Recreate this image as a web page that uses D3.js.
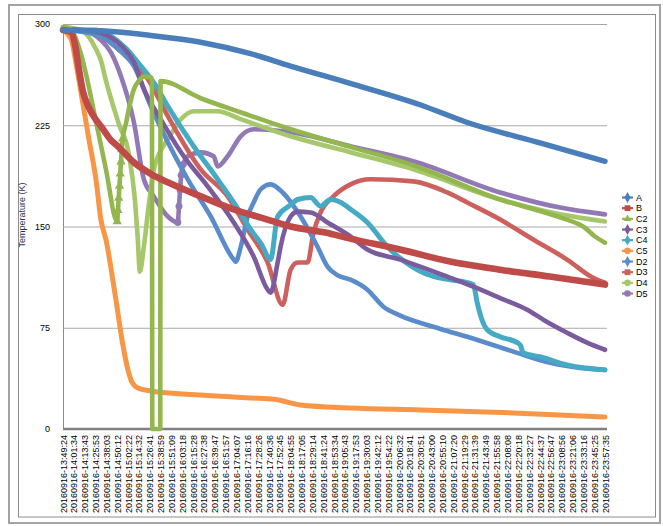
<!DOCTYPE html>
<html>
<head>
<meta charset="utf-8">
<script src="https://cdn.jsdelivr.net/npm/d3@7"></script>
<style>
  html, body { margin: 0; padding: 0; background: #fff; }
  svg { display: block; font-family: "Liberation Sans", Arial, Helvetica, sans-serif; }
</style>
</head>
<body>
<svg id="chart" width="663" height="526"></svg>
<script>
// ---------------- DATA ----------------
const timeLabels = [
  "20160916-13:49:24","20160916-14:01:34","20160916-14:13:43","20160916-14:25:53","20160916-14:38:03",
  "20160916-14:50:12","20160916-15:02:22","20160916-15:14:32","20160916-15:26:41","20160916-15:38:59",
  "20160916-15:51:09","20160916-16:03:18","20160916-16:15:28","20160916-16:27:38","20160916-16:39:47",
  "20160916-16:51:57","20160916-17:04:07","20160916-17:16:16","20160916-17:28:26","20160916-17:40:36",
  "20160916-17:52:45","20160916-18:04:55","20160916-18:17:05","20160916-18:29:14","20160916-18:41:24",
  "20160916-18:53:34","20160916-19:05:43","20160916-19:17:53","20160916-19:30:03","20160916-19:42:12",
  "20160916-19:54:22","20160916-20:06:32","20160916-20:18:41","20160916-20:30:51","20160916-20:43:00",
  "20160916-20:55:10","20160916-21:07:20","20160916-21:19:29","20160916-21:31:39","20160916-21:43:49",
  "20160916-21:55:58","20160916-22:08:08","20160916-22:20:18","20160916-22:32:27","20160916-22:44:37",
  "20160916-22:56:47","20160916-23:08:56","20160916-23:21:06","20160916-23:33:16","20160916-23:45:25",
  "20160916-23:57:35"
];
const yTicks = [0, 75, 150, 225, 300];
const seriesNames = ["A","B","C2","C3","C4","C5","D2","D3","D4","D5"];

// each point: [position on time axis (label index), temperature K]
const A = [[0,295.5],[3.5,295],[8.1,291.5],[12.7,286.5],[17.3,278],[20.99,268.8],[26.5,256],[33,240],[37.3,227],[44,212],[50,198.3]];
const B = [[0,295.5],[0.74,294],[1.1,285],[1.47,266.6],[1.84,250],[2.39,238],[3.04,229],[3.5,224.3],[4.42,214],[5.06,209.4],[6.54,197.5],[8.1,189],[9.67,182.7],[12.7,172.3],[15.75,162.6],[18.5,156],[21,150],[24.2,145.5],[26.5,141],[31.1,133],[35.7,124],[40.3,118],[44.9,112.9],[50,107]];
const C2 = [[0,297.8],[0.74,296],[1.66,277.7],[3.04,228],[3.96,192.3],[5.0,153.7],[5.07,162],[5.14,171],[5.21,180],[5.28,189],[5.35,198],[5.42,207],[5.5,215],[5.8,226],[6.1,238],[6.54,251.7],[7.0,258],[7.46,261],[8.1,260.6],[8.2,259],[8.24,0],[8.97,0],[9.0,257.7],[12.7,245],[16.39,234.6],[21,222],[26.5,209],[32.32,195.3],[40.33,170],[45.86,156.7],[48.16,149],[49.08,142.6],[50,138]];
const C3 = [[0,296],[2.5,295],[4.42,290],[5.5,283],[6.54,271.8],[7.46,251.7],[9.02,229.4],[11.14,202],[13.35,179.7],[15.75,153],[17.59,127.7],[18.88,103.2],[19.15,101],[19.8,123.3],[20.07,135],[21,157.4],[21.64,161],[22.84,160.4],[24.4,153],[26.52,142.6],[28.08,132.9],[31.12,125.5],[35.73,112],[37.85,105.4],[40.33,97],[42.82,88.4],[44.5,80],[46.5,71.3],[48.34,64],[50,58.7]];
const C4 = [[0,296],[3.04,295.5],[4.42,291],[5.8,282],[7.18,268.8],[8.5,255],[9.67,239.1],[12.06,209.4],[14.27,184.9],[15.75,167.8],[17.31,147.8],[18.3,137],[19.15,125.5],[19.8,157.4],[21,166],[21.64,170],[22.84,171.5],[23.76,165],[24.68,170],[25.6,168],[26.5,163],[28.08,153],[29.93,135],[32.69,118],[34.16,113],[35.73,110.6],[37.85,107],[38.21,93.6],[38.6,82],[39.13,73.5],[40.33,68.3],[41.9,64],[42.2,62],[42.45,56.4],[44,53.5],[46.5,47.5],[50,43.8]];
const C5 = [[0,295.5],[0.74,289],[1.29,266.6],[1.84,240.6],[2.39,214.6],[3.04,185],[3.5,155],[3.96,140.3],[4.88,95.8],[5.52,62.4],[5.99,43.8],[6.35,34.9],[6.9,30.4],[8.1,28.2],[12.7,25.2],[17.3,23],[19.5,22],[21.9,17.8],[26.5,15.6],[33,14.1],[41.5,11.9],[50,8.9]];
const D2 = [[0,296],[1.5,294.5],[3.5,291],[5,282],[6.54,268.8],[8.1,239.1],[9.67,212.4],[11.51,184.9],[13.63,157.4],[15.75,125.5],[15.93,124],[16.4,135],[17.03,157.4],[17.6,168],[18.23,177.5],[19.15,181.2],[20.26,175.2],[21.92,157.4],[23.48,135],[24.4,120.3],[25.3,114],[26.52,110.6],[28.08,103.2],[29.56,90.6],[31.12,84],[34.16,75.7],[37.29,68.3],[41.9,56.4],[44.94,49],[47.7,45.3],[50,43.8]];
const D3 = [[0,296],[2.58,294],[4.88,283],[6.26,272.5],[7.83,259.2],[9.67,231.7],[12.7,192.3],[15.19,172.3],[17.03,147.8],[18.88,123.3],[20.26,92],[21,118],[21.64,123.3],[22.56,123.3],[23.11,145.5],[23.76,160.4],[24.95,172.3],[26.52,181.2],[28.36,185],[32.32,183.4],[35.45,175.2],[37.29,167.8],[40.33,155.2],[43.37,140.3],[46.5,125.5],[48.9,112],[50,108.4]];
const D4 = [[0,297.8],[1.66,295.5],[3.04,281.4],[3.5,273],[3.96,258],[5.16,225.7],[6.08,203.5],[6.63,170],[6.9,140.3],[7.09,116.6],[7.46,135],[7.9,165],[8.38,192.3],[9.0,206],[9.67,214.6],[10.87,229.4],[12.06,235.4],[14.27,235.4],[16.39,229.5],[21,216.8],[26.5,205],[32.32,192.3],[40.33,170],[45.86,159],[50,153.7]];
const D5 = [[0,296],[2,295],[3.5,288],[4.42,279],[5.34,261.4],[6.54,227.2],[7.46,184.9],[8.38,172.3],[9.67,157.4],[10.59,153],[10.7,165],[10.8,177],[10.9,188],[11.1,196],[11.51,202],[12.7,204.9],[13.9,202],[14.27,194.5],[15.19,202],[16.39,216.8],[17.59,222],[21,219.8],[26.52,209.4],[32.32,198.3],[40.33,175.2],[45.86,164],[50,159]];

const seriesData = [A, B, C2, C3, C4, C5, D2, D3, D4, D5];

// ---------------- STYLE ----------------
const style = {
  A:  {color:"#4A7EBB", width:5.4, symbol:d3.symbolDiamond},
  B:  {color:"#BE4B48", width:6.6, symbol:d3.symbolSquare},
  C2: {color:"#93B64E", width:4.6, symbol:d3.symbolTriangle, markFrom:5.0, markTo:5.5},
  C3: {color:"#7A5C9E", width:4.6, symbol:d3.symbolDiamond},
  C4: {color:"#46AAC5", width:5.0, symbol:d3.symbolDiamond},
  C5: {color:"#F79646", width:5.0, symbol:d3.symbolCircle},
  D2: {color:"#5A8CCB", width:4.6, symbol:d3.symbolDiamond},
  D3: {color:"#CC605C", width:4.6, symbol:d3.symbolSquare},
  D4: {color:"#A6C76A", width:4.6, symbol:d3.symbolCircle},
  D5: {color:"#9179B6", width:4.6, symbol:d3.symbolCircle, markFrom:10.59, markTo:11.2}
};

// ---------------- DRAW ----------------
const svg = d3.select("#chart");
svg.append("rect").attr("x",0).attr("y",0).attr("width",663).attr("height",526).attr("fill","#fff");
svg.append("rect").attr("x",9).attr("y",5).attr("width",651).attr("height",518)
  .attr("fill","none").attr("stroke","#a3a3a3").attr("stroke-width",2);
svg.append("rect").attr("x",18.5).attr("y",14.5).attr("width",637).attr("height",502.5)
  .attr("fill","none").attr("stroke","#8c8c8c").attr("stroke-width",1);

const x = d3.scaleLinear().domain([0, timeLabels.length - 1]).range([63, 605]);
const y = d3.scaleLinear().domain([0, 300]).range([429, 24]);

const yAxis = d3.axisLeft(y).tickValues(yTicks).tickSize(-(607 - 63)).tickPadding(13);
const gy = svg.append("g").attr("transform","translate(63,0)").call(yAxis);
gy.select(".domain").attr("stroke","#8c8c8c").attr("stroke-width",1);
gy.selectAll(".tick line").attr("stroke","#a8a8a8").attr("stroke-width",1);
gy.selectAll(".tick text").attr("font-size","9px").attr("fill","#000");

svg.append("text")
  .attr("transform","translate(25,215) rotate(-90)")
  .attr("text-anchor","middle")
  .attr("font-size","9px")
  .attr("fill","#1F3450")
  .text("Temperature (K)");

const xAxis = d3.axisBottom(x).tickValues(d3.range(timeLabels.length))
  .tickFormat(i => timeLabels[i]).tickSize(0);
const gx = svg.append("g").attr("transform","translate(0,429)").call(xAxis);
gx.select(".domain").attr("stroke","#808080").attr("stroke-width",2.6)
  .attr("d", `M63,0H607`);
gx.selectAll(".tick text")
  .attr("font-size","9px")
  .attr("fill","#000")
  .attr("text-anchor","end")
  .attr("transform","rotate(-90)")
  .attr("x",-6).attr("y",0).attr("dy","0.34em");

const line = d3.line().x(d => x(d[0])).y(d => y(d[1])).curve(d3.curveMonotoneX);
const order = d3.range(seriesNames.length).reverse();
const gLines = svg.append("g");
order.forEach(k => {
  const name = seriesNames[k], s = style[name], data = seriesData[k];
  gLines.append("path").datum(data)
    .attr("fill","none").attr("stroke",s.color).attr("stroke-width",s.width)
    .attr("stroke-linejoin","round").attr("stroke-linecap","round")
    .attr("d",line);
  if (s.markFrom !== undefined) {
    gLines.selectAll(null).data(data.filter(d => d[0] >= s.markFrom && d[0] <= s.markTo))
      .enter().append("path")
      .attr("transform", d => `translate(${x(d[0])},${y(d[1])})`)
      .attr("d", d3.symbol().type(s.symbol).size(38))
      .attr("fill", s.color);
  }
});

const lg = svg.append("g");
seriesNames.forEach((name, k) => {
  const s = style[name];
  const yy = 197.5 + k * 10.67;
  lg.append("line").attr("x1",622).attr("x2",633).attr("y1",yy).attr("y2",yy)
    .attr("stroke",s.color).attr("stroke-width",2.2);
  lg.append("path").attr("transform",`translate(627.5,${yy})`)
    .attr("d", d3.symbol().type(s.symbol).size(s.symbol === d3.symbolTriangle ? 24 : 34))
    .attr("fill", s.color);
  lg.append("text").attr("x",636).attr("y",yy).attr("dy","0.35em")
    .attr("font-size","9px").attr("fill","#000").text(name);
});
</script>
</body>
</html>
